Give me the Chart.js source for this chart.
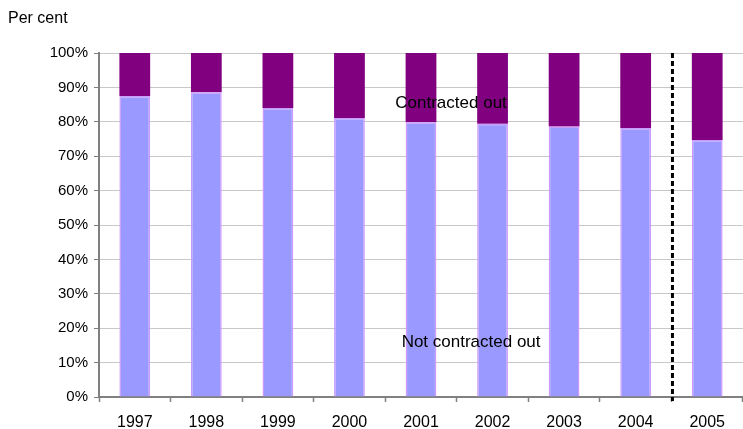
<!DOCTYPE html>
<html>
<head>
<meta charset="utf-8">
<script src="https://cdn.jsdelivr.net/npm/chart.js@4/dist/chart.umd.min.js"></script>
<style>
  html, body { margin: 0; padding: 0; background: #fff; }
  #wrap { width: 743px; height: 429px; position: relative; }
</style>
</head>
<body>
<div id="wrap"><canvas id="myChart"></canvas></div>
<script>
// Data - START
const years = ['1997', '1998', '1999', '2000', '2001', '2002', '2003', '2004', '2005'];
const notContractedOut = [87.5, 88.6, 84.0, 81.1, 79.9, 79.4, 78.6, 78.2, 74.7];
const contractedOut = [12.5, 11.4, 16.0, 18.9, 20.1, 20.6, 21.4, 21.8, 25.3];
const yTicks = [0, 10, 20, 30, 40, 50, 60, 70, 80, 90, 100];
// Data - END

Chart.defaults.font.family = '"Liberation Sans", Arial, sans-serif';
Chart.defaults.font.size = 15;
Chart.defaults.color = '#000';

// extra drawing: "Per cent", series labels, dashed divider
const extras = {
    id: 'extras',
    afterDatasetsDraw(chart) {
        const ctx = chart.ctx;
        const x = chart.scales.x;
        const y = chart.scales.y;
        const step = x.getPixelForValue(1) - x.getPixelForValue(0);
        ctx.save();
        ctx.fillStyle = '#000';
        ctx.textBaseline = 'middle';
        ctx.textAlign = 'left';
        ctx.font = '16px "Liberation Sans", Arial, sans-serif';
        ctx.fillText('Per cent', 8, 19);
        ctx.textAlign = 'center';
        ctx.font = '17px "Liberation Sans", Arial, sans-serif';
        ctx.fillText('Contracted out', x.getPixelForValue(4) + 0.42 * step, y.getPixelForValue(85.5));
        ctx.fillText('Not contracted out', x.getPixelForValue(4) + 0.7 * step, y.getPixelForValue(16.0));

        // dashed line between 2004 and 2005
        const dx = (x.getPixelForValue(7) + x.getPixelForValue(8)) / 2 + 1;
        ctx.strokeStyle = '#000';
        ctx.lineWidth = 3;
        ctx.setLineDash([5, 3]);
        ctx.beginPath();
        ctx.moveTo(dx, chart.chartArea.top);
        ctx.lineTo(dx, chart.chartArea.bottom + 4);
        ctx.stroke();
        ctx.restore();
    }
};

const data = {
    labels: years,
    datasets: [
        {
            label: 'Not contracted out',
            data: notContractedOut,
            backgroundColor: '#9999FF',
            borderColor: '#CC99FF',
            borderWidth: 1.5,
            barPercentage: 0.43,
            categoryPercentage: 1
        },
        {
            label: 'Contracted out',
            data: contractedOut,
            backgroundColor: '#800080',
            borderWidth: 0,
            barPercentage: 0.43,
            categoryPercentage: 1
        }
    ]
};

const config = {
    type: 'bar',
    data: data,
    options: {
        responsive: true,
        maintainAspectRatio: false,
        animation: false,
        layout: { padding: { top: 53, right: 0, bottom: 0, left: 0 } },
        plugins: {
            legend: { display: false },
            tooltip: { enabled: false }
        },
        scales: {
            x: {
                stacked: true,
                afterFit: (scale) => { scale.height = 32; },
                grid: {
                    drawOnChartArea: false,
                    tickLength: 5,
                    tickColor: '#808080',
                    tickWidth: 1.5
                },
                border: { color: '#808080', width: 2 },
                ticks: { padding: 11, color: '#000', font: { size: 16 } }
            },
            y: {
                stacked: true,
                min: 0,
                max: 100,
                afterFit: (scale) => { scale.width = 99; },
                afterBuildTicks: (scale) => { scale.ticks = yTicks.map(v => ({ value: v })); },
                grid: {
                    color: '#C8C8C8',
                    lineWidth: 1,
                    tickLength: 5,
                    tickColor: '#808080'
                },
                border: { color: '#808080', width: 2 },
                ticks: {
                    padding: 6,
                    color: '#000',
                    callback: (v) => v + '%'
                }
            }
        }
    },
    plugins: [extras]
};

new Chart('myChart', config);
</script>
</body>
</html>
